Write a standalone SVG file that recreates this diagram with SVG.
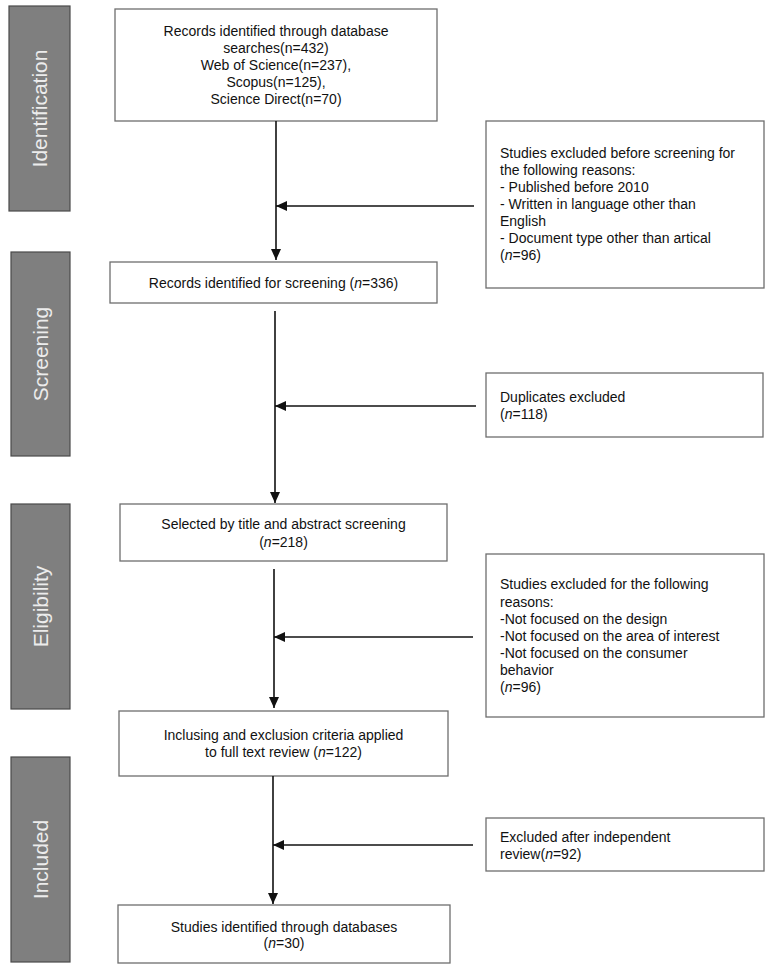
<svg xmlns="http://www.w3.org/2000/svg" width="771" height="971" viewBox="0 0 771 971">
<style>
.bar{fill:#7f7f7f;stroke:#4a4a4a;stroke-width:1.2}
.bt{fill:#ececec;font-family:"Liberation Sans",Arial,sans-serif;font-size:21px;text-anchor:middle;dominant-baseline:central}
.box{fill:#fff;stroke:#6e6e6e;stroke-width:1.3}
.t{fill:#111;font-family:"Liberation Sans",Arial,sans-serif;font-size:14px}
.c{text-anchor:middle}
.it{font-style:italic}
.ln{stroke:#111;stroke-width:1.6;fill:none;marker-end:url(#ah)}
</style>
<defs>
<marker id="ah" markerUnits="userSpaceOnUse" markerWidth="12" markerHeight="12" viewBox="0 0 12 12" refX="11" refY="6" orient="auto">
<path d="M0,1 L11,6 L0,11 Z" fill="#111"/>
</marker>
</defs>
<rect width="771" height="971" fill="#fff"/>

<g id="bar-identification"><rect class="bar" x="9" y="6" width="61" height="205"/><text class="bt" transform="translate(39.5,108.5) rotate(-90)">Identification</text></g>
<g id="bar-screening"><rect class="bar" x="11" y="252" width="59" height="204"/><text class="bt" transform="translate(40.5,354) rotate(-90)">Screening</text></g>
<g id="bar-eligibility"><rect class="bar" x="11" y="504" width="59" height="205"/><text class="bt" transform="translate(40.5,606.5) rotate(-90)">Eligibility</text></g>
<g id="bar-included"><rect class="bar" x="11" y="757" width="59" height="205"/><text class="bt" transform="translate(40.5,859.5) rotate(-90)">Included</text></g>

<g id="node-records">
<rect class="box" x="115" y="9" width="322" height="112"/>
<text class="t c" x="276" y="36">Records identified through database</text>
<text class="t c" x="276" y="53">searches(n=432)</text>
<text class="t c" x="276" y="70">Web of Science(n=237),</text>
<text class="t c" x="276" y="87">Scopus(n=125),</text>
<text class="t c" x="276" y="104">Science Direct(n=70)</text>
</g>

<g id="node-excluded-before">
<rect class="box" x="486" y="121" width="278" height="167"/>
<text class="t" x="500" y="158">Studies excluded before screening for</text>
<text class="t" x="500" y="175">the following reasons:</text>
<text class="t" x="500" y="192">- Published before 2010</text>
<text class="t" x="500" y="209">- Written in language other than</text>
<text class="t" x="500" y="226">English</text>
<text class="t" x="500" y="243">- Document type other than artical</text>
<text class="t" x="500" y="260">(<tspan class="it">n</tspan>=96)</text>
</g>

<g id="node-screening">
<rect class="box" x="110" y="262" width="327" height="41"/>
<text class="t c" x="273.5" y="288">Records identified for screening (<tspan class="it">n</tspan>=336)</text>
</g>

<g id="node-duplicates">
<rect class="box" x="486" y="373" width="277" height="64"/>
<text class="t" x="500" y="402">Duplicates excluded</text>
<text class="t" x="500" y="419">(<tspan class="it">n</tspan>=118)</text>
</g>

<g id="node-selected">
<rect class="box" x="120" y="504" width="327" height="57"/>
<text class="t c" x="283.5" y="529">Selected by title and abstract screening</text>
<text class="t c" x="283.5" y="547">(<tspan class="it">n</tspan>=218)</text>
</g>

<g id="node-excluded-reasons">
<rect class="box" x="486" y="554" width="278" height="163"/>
<text class="t" x="500" y="589">Studies excluded for the following</text>
<text class="t" x="500" y="607">reasons:</text>
<text class="t" x="500" y="624">-Not focused on the design</text>
<text class="t" x="500" y="641">-Not focused on the area of interest</text>
<text class="t" x="500" y="658">-Not focused on the consumer</text>
<text class="t" x="500" y="675">behavior</text>
<text class="t" x="500" y="692">(<tspan class="it">n</tspan>=96)</text>
</g>

<g id="node-criteria">
<rect class="box" x="119" y="711" width="329" height="65"/>
<text class="t c" x="283.5" y="740">Inclusing and exclusion criteria applied</text>
<text class="t c" x="283.5" y="757">to full text review (<tspan class="it">n</tspan>=122)</text>
</g>

<g id="node-excluded-review">
<rect class="box" x="486" y="818" width="278" height="53"/>
<text class="t" x="500" y="842">Excluded after independent</text>
<text class="t" x="500" y="859">review(<tspan class="it">n</tspan>=92)</text>
</g>

<g id="node-final">
<rect class="box" x="118" y="905" width="332" height="58"/>
<text class="t c" x="284" y="932">Studies identified through databases</text>
<text class="t c" x="284" y="948">(<tspan class="it">n</tspan>=30)</text>
</g>

<g id="connectors">
<path class="ln" d="M276,121 V260"/>
<path class="ln" d="M474,206 H276"/>
<path class="ln" d="M275,311 V503"/>
<path class="ln" d="M476,406 H275"/>
<path class="ln" d="M274,569 V708"/>
<path class="ln" d="M473,637 H274"/>
<path class="ln" d="M273,776 V904"/>
<path class="ln" d="M473,845 H273"/>
</g>
</svg>
